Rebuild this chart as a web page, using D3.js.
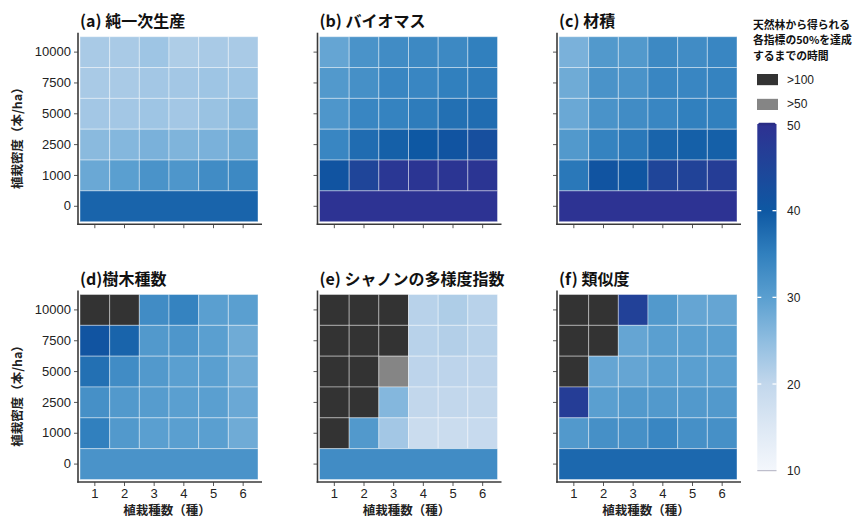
<!DOCTYPE html>
<html>
<head>
<meta charset="utf-8">
<script src="https://cdn.jsdelivr.net/npm/d3@7"></script>
<style>
  html, body { margin: 0; padding: 0; background: #fff; }
  svg { display: block; }
</style>
</head>
<body>
<svg id="chart" width="858" height="519"></svg>
<script>
// Planting design: species richness (columns) and planting density (rows)
const speciesCounts = [1, 2, 3, 4, 5, 6];
const densityLabels = ["0", "1000", "2500", "5000", "7500", "10000"];
const plantedDensities = ["10000", "7500", "5000", "2500", "1000"];

// Years needed to reach 50% of the natural-forest level, rows follow plantedDensities
const nppValues = [
  [22.5, 22.5, 23.5, 22, 22.5, 22.5],
  [22.5, 22.5, 23, 23, 23.5, 23.5],
  [23, 23, 23.5, 23, 24, 25.5],
  [25.5, 26, 27, 26.5, 27, 28],
  [28.5, 30, 32, 31.5, 33, 33.5]
];
const nppUnplanted = 38.5;

const biomassValues = [
  [29, 32, 33, 33.5, 33.5, 35],
  [31, 32.5, 34, 34, 35, 35.5],
  [31.5, 34, 34.5, 35.5, 37, 37.5],
  [34, 37.5, 39, 40, 41, 42.5],
  [41, 45, 48.5, 49, 49, 49]
];
const biomassUnplanted = 49.5;

const volumeValues = [
  [27, 31, 31, 33.5, 33, 34],
  [28, 32, 32, 34, 34, 34.5],
  [28.5, 32, 33, 34, 35, 35],
  [31, 34.5, 36, 38.5, 39, 39],
  [36, 41, 40.5, 45, 45.5, 47]
];
const volumeUnplanted = 49.5;

const richnessValues = [
  [">100", ">100", 33, 34.5, 30, 30],
  [41, 38.5, 31, 31.5, 30, 28],
  [37, 33, 31, 30, 30, 28],
  [32.5, 31, 30.5, 30, 30, 28.5],
  [35, 31, 30, 30, 30, 28]
];
const richnessUnplanted = 32;

const shannonValues = [
  [">100", ">100", ">100", 21, 22, 21],
  [">100", ">100", ">100", 21, 21.5, 21],
  [">100", ">100", ">50", 20.5, 20.5, 20.5],
  [">100", ">100", 26, 20, 20, 20],
  [">100", 31, 23, 18.5, 18.5, 19]
];
const shannonUnplanted = 33;

const similarityValues = [
  [">100", ">100", 46, 31, 29, 29],
  [">100", ">100", 29, 30, 30, 30],
  [">100", 29, 29, 30, 30, 30],
  [47, 30, 31, 31, 31, 31],
  [31, 32.5, 32.5, 34, 32.5, 32.5]
];
const similarityUnplanted = 38;

const panelTitles = ["(a) 純一次生産", "(b) バイオマス", "(c) 材積", "(d)樹木種数", "(e) シャノンの多様度指数", "(f) 類似度"];
const panelGrids = [nppValues, biomassValues, volumeValues, richnessValues, shannonValues, similarityValues];
const panelUnplanted = [nppUnplanted, biomassUnplanted, volumeUnplanted, richnessUnplanted, shannonUnplanted, similarityUnplanted];

const legendTitleLines = ["天然林から得られる", "各指標の50%を達成", "するまでの時間"];
const overflowKeys = [">100", ">50"];
const colorbarTicks = [10, 20, 30, 40, 50];

// Fill colours
const overflowFill = { ">100": "#333333", ">50": "#858585" };
const gradientStops = [10, 15, 20, 25, 30, 35, 40, 45, 50];
const gradientColors = ["#f4f7fc", "#dde8f4", "#c2d7ec", "#8fbde0", "#5a9fd0", "#3180be", "#0e58a3", "#1f4599", "#2e3192"];
const color = d3.scaleLinear().domain(gradientStops).range(gradientColors).clamp(true);
const fillOf = v => (typeof v === "string") ? overflowFill[v] : color(v);

const latinFont = "'Liberation Sans', Arial, sans-serif";
const cjkFont = "'Noto Sans CJK JP', 'Noto Sans', sans-serif";

const svg = d3.select("#chart");

// Panel layout
const tileW = 178, tileH = 185;
const colLefts = [80, 319.5, 559];
const rowTops = [36.7, 294.5];

panelGrids.forEach((grid, i) => {
  const col = i % 3, row = Math.floor(i / 3);
  const x0 = colLefts[col], y0 = rowTops[row];
  const x = d3.scaleBand().domain(speciesCounts).range([x0, x0 + tileW]);
  const y = d3.scaleBand().domain(densityLabels).range([y0 + tileH, y0]);
  const g = svg.append("g");

  // Cells for planted plots
  const cells = [];
  grid.forEach((vals, r) => vals.forEach((v, c) => cells.push({ d: plantedDensities[r], s: speciesCounts[c], v })));
  g.selectAll("rect.cell").data(cells).join("rect")
    .attr("class", "cell")
    .attr("x", d => x(d.s)).attr("y", d => y(d.d))
    .attr("width", x.bandwidth()).attr("height", y.bandwidth())
    .attr("fill", d => fillOf(d.v))
    .attr("stroke", "rgba(255,255,255,0.4)").attr("stroke-width", 1);

  // Unplanted row spans all species columns
  g.append("rect")
    .attr("x", x(speciesCounts[0])).attr("y", y("0"))
    .attr("width", x(speciesCounts[5]) + x.bandwidth() - x(speciesCounts[0]))
    .attr("height", y.bandwidth())
    .attr("fill", fillOf(panelUnplanted[i]))
    .attr("stroke", "rgba(255,255,255,0.4)").attr("stroke-width", 1);

  // Axes
  const axisLeftX = x0 - 2, axisBottomY = y0 + tileH + 2.5;
  const yAxis = d3.axisLeft(y).tickSize(4).tickPadding(3).tickFormat(col === 0 ? (d => d) : () => "");
  const ya = g.append("g").attr("transform", `translate(${axisLeftX},0)`).call(yAxis);
  const xAxis = d3.axisBottom(x).tickSize(4).tickPadding(3).tickFormat(row === 1 ? (d => d) : () => "");
  const xa = g.append("g").attr("transform", `translate(0,${axisBottomY})`).call(xAxis);
  [ya, xa].forEach(a => {
    a.select(".domain").remove();
    a.selectAll(".tick line").attr("stroke", "#444").attr("stroke-width", 0.9);
    a.selectAll(".tick text").attr("fill", "#222").style("font-family", latinFont).style("font-size", "13px");
  });
  g.append("line").attr("x1", axisLeftX).attr("x2", axisLeftX)
    .attr("y1", y0 - 4).attr("y2", axisBottomY + 0.8)
    .attr("stroke", "#3a3a3a").attr("stroke-width", 1.6);
  g.append("line").attr("x1", axisLeftX - 0.8).attr("x2", x0 + tileW + 4)
    .attr("y1", axisBottomY).attr("y2", axisBottomY)
    .attr("stroke", "#3a3a3a").attr("stroke-width", 1.6);

  // Panel title
  g.append("text").attr("x", x0).attr("y", y0 - 10)
    .style("font-family", cjkFont).style("font-size", "16px").style("font-weight", "bold")
    .attr("fill", "#111").text(panelTitles[i]);

  if (col === 0) {
    g.append("text")
      .attr("transform", `translate(22,${y0 + tileH / 2 + 6}) rotate(-90)`)
      .attr("text-anchor", "middle")
      .style("font-family", cjkFont).style("font-size", "12.5px").style("font-weight", "bold")
      .attr("fill", "#222").text("植栽密度（本/ha）");
  }
  if (row === 1) {
    g.append("text")
      .attr("x", x0 + tileW / 2 - 2).attr("y", 515)
      .attr("text-anchor", "middle")
      .style("font-family", cjkFont).style("font-size", "12.5px").style("font-weight", "bold")
      .attr("fill", "#222").text("植栽種数（種）");
  }
});

// Legend
const lg = svg.append("g");
lg.selectAll("text.ltitle").data(legendTitleLines).join("text")
  .attr("class", "ltitle")
  .attr("x", 753).attr("y", (d, k) => 28.5 + k * 15.8)
  .style("font-family", cjkFont).style("font-size", "10.8px").style("font-weight", "bold")
  .attr("fill", "#111").text(d => d);

const keyY = d3.scaleBand().domain(overflowKeys).range([74, 110]).paddingInner(0.55);
lg.selectAll("rect.key").data(overflowKeys).join("rect")
  .attr("class", "key")
  .attr("x", 757).attr("y", d => keyY(d)).attr("width", 21).attr("height", keyY.bandwidth())
  .attr("fill", d => overflowFill[d]);
lg.selectAll("text.key").data(overflowKeys).join("text")
  .attr("class", "key")
  .attr("x", 787).attr("y", d => keyY(d) + keyY.bandwidth() / 2 + 4)
  .style("font-family", latinFont).style("font-size", "12px")
  .attr("fill", "#222").text(d => d);

// Colour bar
const barX = 757.3, barW = 19.2;
const barScale = d3.scaleLinear().domain([10, 50]).range([470.7, 124]);
const defs = svg.append("defs");
const grad = defs.append("linearGradient").attr("id", "bar-grad")
  .attr("x1", 0).attr("y1", 1).attr("x2", 0).attr("y2", 0);
gradientStops.forEach(s => {
  grad.append("stop").attr("offset", (s - 10) / 40).attr("stop-color", color(s));
});
lg.append("rect").attr("x", barX).attr("y", barScale(50))
  .attr("width", barW).attr("height", barScale(10) - barScale(50))
  .attr("fill", "url(#bar-grad)");
lg.append("rect").attr("x", barX + 1).attr("y", barScale(50) - 1.2)
  .attr("width", barW - 2).attr("height", 2.4).attr("rx", 1.2)
  .attr("fill", "#2a2d85");
colorbarTicks.filter(t => t > 10 && t < 50).forEach(t => {
  [[barX, barX + 4], [barX + barW - 4, barX + barW]].forEach(([a, b]) => {
    lg.append("line").attr("x1", a).attr("x2", b)
      .attr("y1", barScale(t)).attr("y2", barScale(t))
      .attr("stroke", "#ffffff").attr("stroke-width", 1.3);
  });
});
lg.append("line").attr("x1", barX).attr("x2", barX + barW)
  .attr("y1", barScale(10)).attr("y2", barScale(10))
  .attr("stroke", "#b0b0c0").attr("stroke-width", 1);
lg.selectAll("text.btick").data(colorbarTicks).join("text")
  .attr("class", "btick")
  .attr("x", 787).attr("y", d => barScale(d) + (d === 50 ? 6 : 4.5))
  .style("font-family", latinFont).style("font-size", "12px")
  .attr("fill", "#222").text(d => d);
</script>
</body>
</html>
